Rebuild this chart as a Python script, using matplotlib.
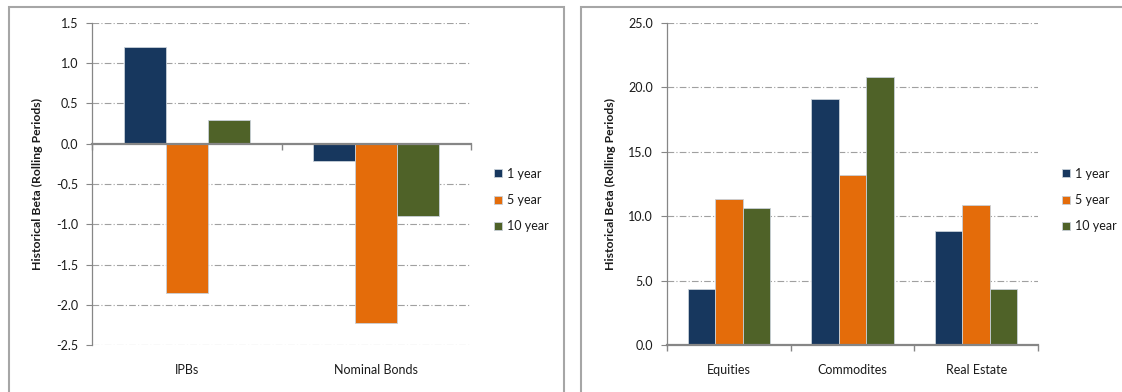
import matplotlib
matplotlib.use('Agg')
import matplotlib.pyplot as plt
from matplotlib.patches import Rectangle
from matplotlib.ticker import FormatStrFormatter
import numpy as np

plt.rcParams['font.family'] = ['Lato', 'DejaVu Sans']
plt.rcParams['axes.unicode_minus'] = False

series = ['1 year', '5 year', '10 year']
colors = ['#17375E', '#E46C0A', '#4F6228']

left_cats = ['IPBs', 'Nominal Bonds']
left_vals = {
    '1 year': [1.20, -0.22],
    '5 year': [-1.85, -2.23],
    '10 year': [0.29, -0.90],
}
left_ticks = [-2.5, -2.0, -1.5, -1.0, -0.5, 0.0, 0.5, 1.0, 1.5]

right_cats = ['Equities', 'Commodites', 'Real Estate']
right_vals = {
    '1 year': [4.35, 19.1, 8.85],
    '5 year': [11.3, 13.2, 10.9],
    '10 year': [10.65, 20.8, 4.35],
}
right_ticks = [0.0, 5.0, 10.0, 15.0, 20.0, 25.0]

W, H = 1122, 392
fig = plt.figure(figsize=(W / 100, H / 100), dpi=100)
fig.patch.set_facecolor('white')

# panel frames
border = '#a6a6a6'
fig.add_artist(Rectangle((9 / W, -0.05), (564 - 9) / W, 1.05 - 7 / H,
                         transform=fig.transFigure, fill=False,
                         edgecolor=border, linewidth=1.5))
fig.add_artist(Rectangle((581 / W, -0.05), 0.6, 1.05 - 7 / H,
                         transform=fig.transFigure, fill=False,
                         edgecolor=border, linewidth=1.5))

axis_col = '#868686'
grid_col = '#a0a0a0'
txt = '#1a1a1a'
fs = 9


def draw(ax, cats, vals, ticks, leg_x):
    n = len(cats)
    x = np.arange(n)
    w = 0.667 / 3
    for i, s in enumerate(series):
        ax.bar(x + (i - 1) * w, vals[s], width=w, color=colors[i],
               edgecolor='#c8d0d8', linewidth=0.6, label=s, zorder=3)
    ax.set_xlim(-0.5, n - 0.5)
    ax.set_ylim(ticks[0], ticks[-1])
    ax.set_yticks(ticks)
    ax.yaxis.set_major_formatter(FormatStrFormatter('%.1f'))
    ax.tick_params(axis='y', length=4, width=0.8, color=axis_col,
                   labelsize=fs, labelcolor=txt, pad=6)
    for t in ticks:
        if t != 0:
            ax.axhline(t, color=grid_col, linewidth=0.8,
                       dashes=(6, 2, 1, 2), zorder=1)
    for side in ['top', 'right']:
        ax.spines[side].set_visible(False)
    ax.spines['left'].set_color(axis_col)
    ax.spines['left'].set_linewidth(0.9)
    ax.spines['bottom'].set_position(('data', 0))
    ax.spines['bottom'].set_color(axis_col)
    ax.spines['bottom'].set_linewidth(1.6)
    ax.spines['bottom'].set_zorder(4)
    ax.set_xticks([])
    ax.set_xticks(np.arange(n + 1) - 0.5, minor=True)
    ax.tick_params(axis='x', which='minor', length=4, width=1,
                   color=axis_col, direction='out')
    sec = ax.secondary_xaxis(0)
    sec.set_xticks(x)
    sec.set_xticklabels(cats)
    sec.tick_params(length=0, pad=14, labelsize=fs, labelcolor=txt)
    sec.spines['bottom'].set_visible(False)
    ax.set_ylabel('Historical Beta (Rolling Periods)', fontsize=8.8,
                  fontweight='bold', color=txt, labelpad=9)
    ax.legend(loc='center left', bbox_to_anchor=(leg_x, 0.45),
              frameon=False, fontsize=fs, handlelength=0.62,
              handleheight=0.62, handletextpad=0.4, labelspacing=1.15,
              borderpad=0, borderaxespad=0, labelcolor=txt)


ax1 = fig.add_axes([92 / W, 1 - 345 / H, (471 - 92) / W, 322 / H])
draw(ax1, left_cats, left_vals, left_ticks, 1.062)

ax2 = fig.add_axes([667 / W, 1 - 345 / H, (1038 - 667) / W, 322 / H])
draw(ax2, right_cats, right_vals, right_ticks, 1.065)

plt.savefig('out.png', dpi=100, facecolor='white')
